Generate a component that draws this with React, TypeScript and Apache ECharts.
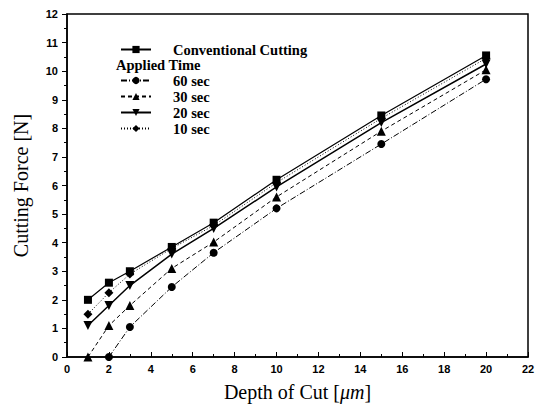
import React, { useEffect, useRef } from "react";
import * as echarts from "echarts";

const depths = [1, 2, 3, 5, 7, 10, 15, 20];
const conventional = [2.0, 2.6, 3.0, 3.85, 4.7, 6.2, 8.45, 10.55];
const sec60: (number | null)[] = [null, 0, 1.05, 2.45, 3.65, 5.2, 7.45, 9.72];
const sec30 = [0, 1.1, 1.8, 3.1, 4.02, 5.6, 7.9, 10.05];
const sec20 = [1.1, 1.8, 2.5, 3.6, 4.5, 5.95, 8.2, 10.25];
const sec10 = [1.5, 2.25, 2.9, 3.8, 4.6, 6.1, 8.35, 10.45];

const toPairs = (ys: (number | null)[]) =>
  depths.map((x, i) => (ys[i] === null ? null : [x, ys[i]])).filter((p) => p !== null);

export default function App() {
  const ref = useRef<HTMLDivElement>(null);
  useEffect(() => {
    if (!ref.current) return;
    const chart = echarts.init(ref.current, null, { renderer: "svg" });
    const mk = (
      name: string,
      ys: (number | null)[],
      symbol: string,
      lineType: any,
      width: number,
      rotate = 0,
      size = 8
    ) => ({
      name,
      type: "line",
      data: toPairs(ys),
      symbol,
      symbolSize: size,
      symbolRotate: rotate,
      lineStyle: { color: "#000", width, type: lineType },
      itemStyle: { color: "#000" },
    });
    const legendText = {
      fontFamily: "Liberation Serif",
      fontWeight: "bold",
      fontSize: 14.5,
      color: "#000",
      padding: [0, 0, 0, 17],
    };
    chart.setOption({
      animation: false,
      backgroundColor: "#fff",
      grid: {
        left: 67,
        right: 10,
        top: 14,
        bottom: 57,
        show: true,
        borderColor: "#000",
        borderWidth: 1.5,
      },
      xAxis: {
        type: "value",
        min: 0,
        max: 22,
        interval: 2,
        name: "Depth of Cut [{i|μm}]",
        nameLocation: "middle",
        nameGap: 25,
        nameTextStyle: {
          fontFamily: "Liberation Serif",
          fontSize: 20,
          color: "#000",
          rich: {
            i: { fontFamily: "Liberation Serif", fontStyle: "italic", fontSize: 20, color: "#000" },
          },
        },
        axisLine: { lineStyle: { color: "#000", width: 1.5 } },
        axisTick: { inside: true, length: 5, lineStyle: { color: "#000" } },
        minorTick: { show: true, splitNumber: 2, length: 3, lineStyle: { color: "#000" } },
        axisLabel: {
          color: "#000",
          fontFamily: "Liberation Sans",
          fontSize: 11,
          fontWeight: "bold",
          margin: 6,
        },
        splitLine: { show: false },
      },
      yAxis: {
        type: "value",
        min: 0,
        max: 12,
        interval: 1,
        name: "Cutting Force [N]",
        nameLocation: "middle",
        nameGap: 36,
        nameTextStyle: { fontFamily: "Liberation Serif", fontSize: 20, color: "#000" },
        axisLine: { show: true, lineStyle: { color: "#000", width: 1.5 } },
        axisTick: { inside: false, length: 5, lineStyle: { color: "#000" } },
        minorTick: { show: true, splitNumber: 2, length: 3, lineStyle: { color: "#000" } },
        axisLabel: {
          color: "#000",
          fontFamily: "Liberation Sans",
          fontSize: 11,
          fontWeight: "bold",
          margin: 9,
        },
        splitLine: { show: false },
      },
      legend: [
        {
          data: ["Conventional Cutting"],
          left: 115,
          top: 37,
          itemWidth: 30,
          itemHeight: 9,
          textStyle: legendText,
        },
        {
          data: ["60 sec", "30 sec", "20 sec", "10 sec"],
          orient: "vertical",
          left: 115,
          top: 68,
          itemGap: 1,
          itemWidth: 30,
          itemHeight: 9,
          textStyle: legendText,
        },
      ],
      graphic: [
        {
          type: "text",
          left: 116,
          top: 57,
          style: {
            text: "Applied Time",
            font: "bold 14.5px 'Liberation Serif'",
            fill: "#000",
          },
        },
      ],
      series: [
        mk("Conventional Cutting", conventional, "rect", "solid", 1.2, 0, 8),
        mk("60 sec", sec60, "circle", [6, 2, 1, 2], 1, 0, 8),
        mk("30 sec", sec30, "triangle", [4, 3], 1, 0, 9),
        mk("20 sec", sec20, "triangle", "solid", 1.5, 180, 9),
        mk("10 sec", sec10, "diamond", [1, 2], 1, 0, 9),
      ],
    });
    return () => chart.dispose();
  }, []);
  return (
    <div
      ref={ref}
      style={{ position: "fixed", left: 0, top: 0, width: 538, height: 414 }}
    />
  );
}
